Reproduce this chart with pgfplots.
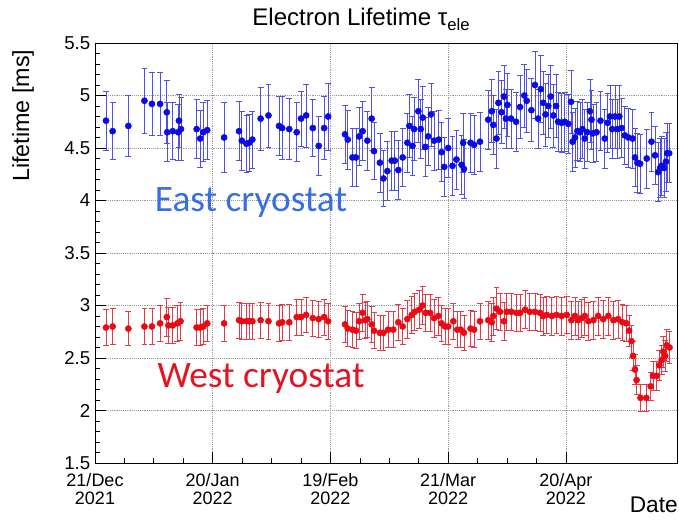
\documentclass[border=0pt]{standalone}
\usepackage{fontspec}
\setmainfont{Liberation Sans}
\newfontfamily\calibri{Carlito}
\usepackage{pgfplots}
\usepackage{pgfplotstable}
\pgfplotsset{compat=1.18}
\definecolor{eastmk}{RGB}{10,10,230}
\definecolor{eastbar}{RGB}{80,80,225}
\definecolor{westmk}{RGB}{235,10,20}
\definecolor{westbar}{RGB}{228,60,70}
\definecolor{easttxt}{RGB}{55,110,228}
\definecolor{westtxt}{RGB}{228,20,35}

\pgfplotstableread{
x y e
2.8 4.76 0.28
4.5 4.66 0.27
8.5 4.71 0.29
12.6 4.95 0.31
14.5 4.92 0.30
16.6 4.92 0.30
18.3 4.84 0.30
18.4 4.65 0.28
19.8 4.66 0.27
21.2 4.65 0.27
21.4 4.76 0.25
21.9 4.68 0.30
25.9 4.68 0.28
26.8 4.59 0.27
27.6 4.65 0.28
28.6 4.67 0.28
32.9 4.60 0.33
36.7 4.66 0.28
37.4 4.57 0.28
38.6 4.54 0.27
39.3 4.55 0.27
40.1 4.58 0.27
42.2 4.78 0.30
44.2 4.81 0.30
46.9 4.71 0.28
47.7 4.69 0.30
49.5 4.68 0.29
51.4 4.65 0.28
52.5 4.78 0.26
53.8 4.81 0.30
55.5 4.69 0.27
57.0 4.52 0.28
58.4 4.69 0.30
59.4 4.80 0.32
63.7 4.63 0.28
64.4 4.58 0.28
65.6 4.41 0.28
66.5 4.41 0.28
67.3 4.61 0.28
68.2 4.66 0.28
69.4 4.57 0.28
70.5 4.78 0.30
71.1 4.47 0.27
72.6 4.36 0.28
73.5 4.21 0.27
74.5 4.28 0.28
75.6 4.38 0.28
76.4 4.38 0.28
77.3 4.29 0.28
78.4 4.41 0.28
79.6 4.55 0.28
80.1 4.71 0.30
80.9 4.52 0.28
81.3 4.68 0.30
82.4 4.85 0.30
83.0 4.68 0.28
83.5 4.79 0.30
84.2 4.51 0.28
84.9 4.61 0.28
85.6 4.82 0.30
86.4 4.57 0.28
87.6 4.58 0.28
88.3 4.46 0.28
89.0 4.32 0.28
90.0 4.50 0.28
91.1 4.33 0.28
92.1 4.39 0.28
93.4 4.34 0.28
93.8 4.55 0.28
94.0 4.30 0.28
95.7 4.55 0.28
96.6 4.53 0.28
98.1 4.56 0.28
100.2 4.77 0.28
101.1 4.85 0.30
101.5 4.72 0.28
102.3 4.59 0.28
102.8 4.93 0.30
103.6 4.84 0.30
104.2 4.99 0.30
104.7 4.78 0.28
105.1 4.91 0.30
106.0 4.78 0.28
107.3 4.75 0.28
108.3 4.89 0.30
109.4 5.00 0.30
110.0 4.95 0.30
111.2 4.86 0.30
112.1 5.10 0.32
112.9 4.78 0.28
113.6 5.06 0.32
114.2 4.93 0.30
114.8 4.82 0.30
115.5 4.90 0.30
116.1 4.99 0.30
116.8 4.81 0.30
117.5 4.90 0.30
118.0 4.75 0.28
118.9 4.74 0.28
119.7 4.75 0.28
120.6 4.73 0.28
121.3 4.94 0.30
121.7 4.56 0.28
122.3 4.60 0.28
122.9 4.66 0.28
123.6 4.65 0.28
124.2 4.68 0.28
124.8 4.59 0.28
125.4 4.65 0.28
126.1 4.85 0.30
126.5 4.77 0.28
126.9 4.64 0.28
127.8 4.65 0.28
128.8 4.76 0.28
129.9 4.59 0.28
130.6 4.74 0.28
131.2 4.80 0.30
131.8 4.68 0.28
132.5 4.80 0.30
133.1 4.68 0.28
133.6 4.80 0.30
134.2 4.69 0.28
135.0 4.62 0.28
135.9 4.60 0.28
137.0 4.59 0.28
137.6 4.41 0.28
138.2 4.36 0.28
138.9 4.35 0.28
140.6 4.40 0.28
141.8 4.56 0.28
142.7 4.43 0.28
143.5 4.27 0.28
144.0 4.31 0.28
144.4 4.33 0.28
145.0 4.31 0.28
145.5 4.37 0.28
145.8 4.45 0.28
146.3 4.45 0.28
}\eastdata

\pgfplotstableread{
x y e
2.8 2.79 0.17
4.5 2.80 0.17
8.5 2.78 0.16
12.6 2.80 0.17
14.5 2.80 0.17
16.6 2.83 0.17
18.3 2.89 0.18
18.7 2.81 0.17
19.8 2.81 0.17
21.0 2.83 0.17
21.8 2.85 0.18
25.9 2.79 0.17
26.8 2.79 0.17
27.6 2.80 0.17
28.6 2.83 0.17
32.9 2.83 0.17
36.7 2.86 0.17
37.4 2.85 0.17
38.6 2.85 0.17
39.3 2.85 0.17
40.1 2.85 0.17
42.2 2.86 0.17
44.2 2.85 0.17
46.9 2.83 0.17
47.7 2.84 0.17
49.5 2.84 0.17
51.4 2.89 0.17
52.5 2.89 0.17
53.8 2.91 0.17
55.5 2.88 0.17
57.0 2.87 0.17
58.4 2.89 0.17
59.4 2.85 0.17
63.7 2.82 0.17
64.4 2.78 0.17
65.6 2.77 0.17
66.5 2.76 0.17
67.3 2.85 0.17
68.2 2.93 0.18
68.8 2.86 0.17
69.4 2.87 0.17
70.5 2.82 0.17
71.1 2.76 0.17
72.6 2.74 0.17
73.5 2.74 0.17
74.7 2.77 0.17
76.0 2.77 0.17
77.3 2.84 0.17
78.4 2.80 0.17
79.6 2.87 0.18
80.7 2.91 0.18
81.5 2.94 0.18
82.6 2.96 0.18
83.5 3.00 0.18
84.3 2.93 0.18
85.4 2.93 0.18
86.4 2.88 0.18
87.5 2.90 0.18
88.3 2.83 0.17
89.2 2.80 0.17
90.0 2.80 0.17
91.3 2.85 0.17
92.3 2.77 0.17
93.2 2.77 0.17
94.0 2.74 0.17
95.7 2.78 0.17
96.6 2.77 0.17
98.1 2.85 0.17
100.2 2.86 0.18
101.1 2.84 0.18
101.5 2.90 0.18
102.3 2.97 0.20
103.2 2.94 0.18
104.2 2.85 0.18
104.9 2.94 0.18
106.1 2.94 0.18
107.4 2.93 0.18
108.3 2.93 0.18
109.6 2.96 0.18
110.8 2.94 0.18
112.1 2.94 0.18
113.4 2.93 0.18
114.2 2.90 0.18
115.1 2.91 0.18
116.4 2.90 0.18
117.6 2.91 0.18
118.9 2.90 0.18
120.2 2.91 0.18
121.4 2.86 0.18
122.3 2.90 0.18
123.1 2.86 0.18
124.0 2.88 0.18
124.8 2.90 0.18
125.7 2.85 0.18
127.0 2.86 0.18
128.2 2.90 0.18
129.5 2.87 0.18
130.8 2.90 0.18
132.1 2.86 0.18
133.3 2.87 0.18
134.4 2.84 0.17
135.4 2.83 0.17
136.1 2.76 0.15
136.7 2.66 0.15
137.1 2.52 0.14
137.6 2.39 0.14
138.0 2.29 0.14
139.0 2.12 0.13
140.5 2.12 0.13
141.6 2.23 0.13
142.2 2.33 0.14
143.1 2.33 0.14
143.8 2.43 0.14
144.4 2.48 0.14
144.8 2.56 0.15
145.3 2.52 0.15
145.7 2.62 0.15
146.4 2.60 0.15
}\westdata

\begin{document}
\begin{tikzpicture}
\useasboundingbox (-71.25pt,-42.75pt) rectangle (438pt,347.25pt);
\begin{axis}[
  at={(0,0)}, anchor=south west,
  scale only axis,
  width=436.5pt, height=315pt,
  xmin=0, xmax=148.3,
  ymin=1.5, ymax=5.5,
  xtick={0,30,60,90,120},
  xticklabels={{21/Dec\\2021},{20/Jan\\2022},{19/Feb\\2022},{21/Mar\\2022},{20/Apr\\2022}},
  xticklabel style={align=center, font=\fontsize{13.5}{14}\selectfont, yshift=-4pt},
  ytick={1.5,2,2.5,3,3.5,4,4.5,5,5.5},
  yticklabel style={font=\fontsize{14}{14}\selectfont},
  /pgf/number format/assume math mode=true,
  minor x tick num=3,
  minor y tick num=4,
  tick pos=left,
  tick align=inside,
  major tick length=8pt,
  minor tick length=4pt,
  every tick/.style={black, line width=0.6pt},
  grid=major,
  major grid style={densely dotted, gray!80, line width=0.6pt},
  axis line style={line width=0.6pt},
  clip=true,
]
\addplot+[only marks, mark=*, mark size=2.3pt, color=eastmk,
  mark options={fill=eastmk, draw=eastmk},
  error bars/.cd, y dir=both, y explicit,
  error bar style={color=eastbar, line width=0.55pt},
  error mark options={rotate=90, color=eastbar, mark size=2.2pt, line width=0.55pt}]
  table[x=x, y=y, y error=e] {\eastdata};
\addplot+[only marks, mark=*, mark size=2.3pt, color=westmk,
  mark options={fill=westmk, draw=westmk},
  error bars/.cd, y dir=both, y explicit,
  error bar style={color=westbar, line width=0.55pt},
  error mark options={rotate=90, color=westbar, mark size=2.2pt, line width=0.55pt}]
  table[x=x, y=y, y error=e] {\westdata};
\end{axis}
\node[anchor=base, font=\fontsize{18}{20}\selectfont] at (199.5pt,327.75pt) {Electron Lifetime τ\raisebox{-0.35ex}{\fontsize{12.5}{13}\selectfont ele}};
\node[anchor=east, rotate=90, font=\fontsize{17.5}{19}\selectfont] at (-54pt,313.5pt) {Lifetime [ms]};
\node[anchor=base east, font=\fontsize{17}{19}\selectfont, inner sep=0pt] at (437.25pt,-37.5pt) {Date};
\node[anchor=base, font=\calibri\fontsize{28}{30}\selectfont, text=easttxt] at (117pt,188.25pt) {East cryostat};
\node[anchor=base, font=\calibri\fontsize{28}{30}\selectfont, text=westtxt] at (124.5pt,56.25pt) {West cryostat};
\end{tikzpicture}
\end{document}
